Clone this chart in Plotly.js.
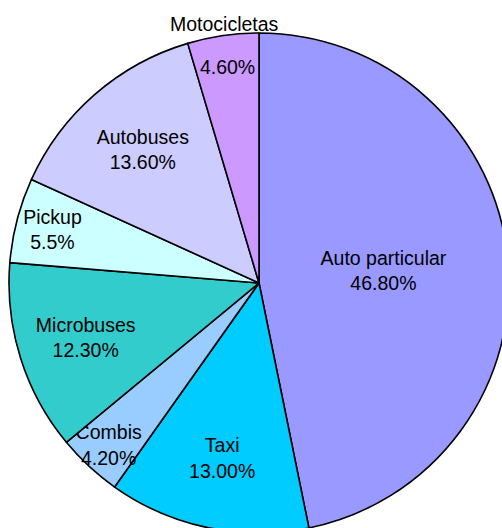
<!DOCTYPE html>
<html>
<head>
<meta charset="utf-8">
<script src="https://cdn.plot.ly/plotly-3.0.1.min.js"></script>
<style>
html,body{margin:0;padding:0;overflow:hidden;background:#fff;}
#chart{position:absolute;left:0;top:-13px;width:560px;height:600px;}
</style>
</head>
<body>
<div id="chart"></div>
<script>
var categories = ["Auto particular", "Taxi", "Combis", "Microbuses", "Pickup", "Autobuses", "Motocicletas"];
var values = [46.8, 13.0, 4.2, 12.3, 5.5, 13.6, 4.6];
var valueLabels = ["46.80%", "13.00%", "4.20%", "12.30%", "5.5%", "13.60%", "4.60%"];
var colors = ["#9999FF", "#00CCFF", "#99CCFF", "#33CCCC", "#CCFFFF", "#CCCCFF", "#CC99FF"];
var titleText = "Flota de pasajeros por modo (2005)";

var W = 560, H = 600;
var domain = {x: [9 / W, 509 / W], y: [54 / H, 554 / H]};
var font = {family: "Liberation Sans, Arial, sans-serif", size: 19.5, color: "#000"};
var outsideLabel = "Motocicletas";

var insideTemplates = categories.map(function (c) {
  return c === outsideLabel ? "%{text}" : "%{label}<br>%{text}";
});

var main = {
  type: "pie",
  labels: categories,
  values: values,
  text: valueLabels,
  texttemplate: insideTemplates,
  textposition: "inside",
  insidetextorientation: "horizontal",
  insidetextfont: font,
  sort: false,
  direction: "clockwise",
  rotation: 0,
  marker: {colors: colors, line: {color: "#000", width: 1.6}},
  domain: domain,
  hoverinfo: "none",
  showlegend: false
};

var layout = {
  width: W, height: H,
  margin: {l: 0, r: 0, t: 0, b: 0},
  paper_bgcolor: "#fff",
  showlegend: false,
  uniformtext: {mode: "show", minsize: 19.5},
  title: {
    text: "<b>" + titleText + "</b>",
    font: {family: "Liberation Sans, Arial, sans-serif", size: 24, color: "#000"},
    xref: "container", x: 43 / W, xanchor: "left",
    yref: "container", y: 1, yanchor: "middle"
  },
  annotations: [{
    text: outsideLabel,
    xref: "paper", yref: "paper",
    x: 224 / W, y: (H - 37) / H,
    xanchor: "center", yanchor: "middle",
    showarrow: false,
    font: font
  }]
};
Plotly.newPlot("chart", [main], layout, {staticPlot: true});
</script>
</body>
</html>
